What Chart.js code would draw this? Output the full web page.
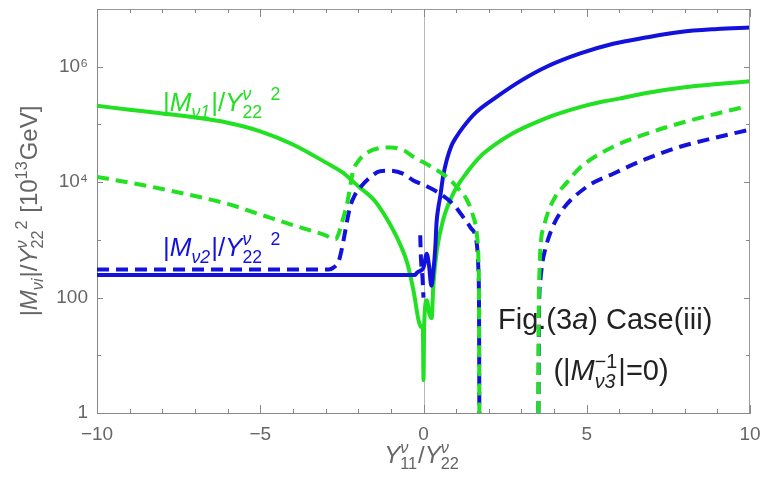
<!DOCTYPE html>
<html><head><meta charset="utf-8">
<script src="https://cdn.jsdelivr.net/npm/chart.js@4"></script>
<style>html,body{margin:0;padding:0;background:#fff;}canvas{display:block;}</style>
</head><body>
<canvas id="c" width="762" height="488"></canvas>
<script>
// ---------------- data ----------------
const xTickLabels = {"-10":"\u221210","-5":"\u22125","0":"0","5":"5","10":"10"};
const yTickLabels = {"1":"1","100":"100","10000":"10\u2074","1000000":"10\u2076"};
const yTickValues = [1,10,100,1e3,1e4,1e5,1e6,1e7];

// |M_nu1| / Y22^2  (solid green)
const m1SolidX = [-10,-9,-8,-7,-6,-5,-4,-3,-2.5,-2,-1.5,-1,-0.7,-0.5,-0.3,-0.15,-0.08,-0.02,0,0.02,0.1,0.18,0.25,0.3,0.41,0.6,0.92,1.3,1.73,2.2,2.75,3.5,4,4.79,5.5,6,6.83,8,9,10];
const m1SolidY = [2.1e5,1.8e5,1.55e5,1.32e5,1.07e5,7.6e4,4.5e4,2.2e4,1.5e4,8.5e3,4.8e3,1.75e3,800,400,125,40,31,33,3.7,33,90,52,44,160,660,2.2e3,6.5e3,1.4e4,2.75e4,4.5e4,7.1e4,1.12e5,1.45e5,2.0e5,2.5e5,2.8e5,3.5e5,4.4e5,5.0e5,5.6e5];

// |M_nu2| / Y22^2  (solid blue)
const m2SolidX = [-10,-0.26,-0.2,-0.1,0,0.1,0.17,0.24,0.3,0.36,0.4,0.45,0.51,0.6,0.71,0.85,1,1.21,1.6,2.24,3,3.77,4.8,5.81,6.8,7.86,9,10];
const m2SolidY = [245,245,270,290,330,575,355,160,280,710,2.0e3,3.5e3,5.5e3,1.26e4,2.4e4,4.2e4,6.0e4,8.9e4,1.6e5,3.0e5,5.8e5,1.0e6,1.7e6,2.5e6,3.2e6,4.0e6,4.5e6,4.8e6];

// dashed green (first branch, then second branch)
const m1DashX = [-10,-9,-8,-7,-6,-5,-4,-3,-2.7,-2.6,-2.5,-2.35,-2.15,-2,-1.74,-1.33,-1,-0.6,-0.31,0.2,0.71,1,1.33,1.5,1.63,1.68,1.7,1.71];
const m1DashY = [1.23e4,9.8e3,7.6e3,5.75e3,4.2e3,2.75e3,1.8e3,1.2e3,1.02e3,1.26e3,2.0e3,4.0e3,1.6e4,2.3e4,3.2e4,3.9e4,4.0e4,3.55e4,2.75e4,1.9e4,1.23e4,8.5e3,4.9e3,2.8e3,1.3e3,500,100,1];
const m1Dash2X = [3.52,3.53,3.55,3.58,3.7,3.98,4.4,4.8,5.81,6.8,7.86,9,9.8];
const m1Dash2Y = [1,63,250,700,1.8e3,4.9e3,1.0e4,1.8e4,4.1e4,6.8e4,1.05e5,1.55e5,2.0e5];

// dashed blue
const m2DashX = [-10,-2.9,-2.76,-2.6,-2.5,-2.45,-2.25,-2.1,-1.94,-1.6,-1.33,-1,-0.6,-0.31,0.1,0.51,0.9,1.21,1.45,1.63,1.68,1.7,1.71];
const m2DashY = [307,307,330,420,700,980,3.7e3,6.0e3,8.1e3,1.26e4,1.55e4,1.58e4,1.38e4,1.07e4,8.5e3,6.3e3,4.2e3,2.5e3,1.6e3,870,320,80,1];
const m2Dash2X = [3.52,3.54,3.58,3.64,3.72,3.9,4.18,5,5.81,6.8,7.86,9,9.9];
const m2Dash2Y = [1,63,200,400,660,1.4e3,2.9e3,8.3e3,1.4e4,2.5e4,4.1e4,6.0e4,7.9e4];
const m2SpikeX = [-0.1,-0.08,-0.03,0];
const m2SpikeY = [1.2e3,500,220,100];

// ---------------- styles ----------------
const GREEN = '#22e022';
const BLUE = '#1212dc';
const GRAY = '#666';
const FAM = '"Liberation Sans", Arial, Helvetica, sans-serif';

function pts(xs, ys){ return xs.map((x,i)=>({x:x, y:ys[i]})); }

function ds(label, xs, ys, color, dashed){
  return {label, data: pts(xs,ys), borderColor: color, backgroundColor: color,
    borderWidth: 4, borderDash: dashed ? [12,7] : [], pointRadius: 0,
    cubicInterpolationMode: 'monotone', tension: 0.4,
    fill: false, borderJoinStyle: 'round'};
}

// rich text (sub/superscripts)
function drawRich(ctx, parts, x, y, size, color, align){
  const small = size*0.68;
  const f = (sz,it)=> (it?'italic ':'') + sz.toFixed(1) + 'px ' + FAM;
  const items = parts.map(p=>{
    if (typeof p === 'string') p = {t:p};
    let w = 0;
    if (p.t !== undefined){ ctx.font = f(size,p.i); w = ctx.measureText(p.t).width; }
    else {
      let ws=0, wp=0;
      if (p.sub){ ctx.font = f(small,p.si); ws = ctx.measureText(p.sub).width; }
      if (p.sup){ ctx.font = f(small,p.pi); wp = ctx.measureText(p.sup).width; }
      w = Math.max(ws,wp) + size*0.04;
    }
    return {p,w};
  });
  const total = items.reduce((a,b)=>a+b.w,0);
  let cx = align==='center' ? x - total/2 : (align==='right' ? x-total : x);
  ctx.save();
  ctx.fillStyle = color; ctx.textBaseline = 'alphabetic'; ctx.textAlign = 'left';
  for (const {p,w} of items){
    if (p.t !== undefined){ ctx.font = f(size,p.i); ctx.fillText(p.t, cx, y); }
    else {
      if (p.sub){ ctx.font = f(small,p.si); ctx.fillText(p.sub, cx, y + size*0.26); }
      if (p.sup){ ctx.font = f(small,p.pi); ctx.fillText(p.sup, cx, y - size*0.42); }
    }
    cx += w;
  }
  ctx.restore();
}

const decorPlugin = {
  id: 'decor',
  beforeDatasetsDraw(chart){
    const {ctx, chartArea:a, scales:{x}} = chart;
    const px = Math.round(x.getPixelForValue(0)) + 0.5;
    ctx.save(); ctx.strokeStyle = '#b8b8b8'; ctx.lineWidth = 1;
    ctx.beginPath(); ctx.moveTo(px, a.top); ctx.lineTo(px, a.bottom); ctx.stroke();
    ctx.restore();
  },
  afterDraw(chart){
    const {ctx, chartArea:a, scales:{x,y}} = chart;
    ctx.save();
    ctx.strokeStyle = '#999'; ctx.lineWidth = 1;
    ctx.beginPath();
    ctx.moveTo(a.left, a.top+0.5); ctx.lineTo(a.right, a.top+0.5);
    ctx.moveTo(a.right-0.5, a.top); ctx.lineTo(a.right-0.5, a.bottom);
    ctx.stroke();
    ctx.strokeStyle = '#888';
    ctx.beginPath();
    x.ticks.forEach(t=>{
      const v = t.value; const px = Math.round(x.getPixelForValue(v))+0.5;
      const L = (Math.abs(v)%5===0) ? 8 : 4;
      ctx.moveTo(px, a.bottom); ctx.lineTo(px, a.bottom-L);
      ctx.moveTo(px, a.top); ctx.lineTo(px, a.top+L);
    });
    y.ticks.forEach(t=>{
      const v = t.value; const py = Math.round(y.getPixelForValue(v))+0.5;
      const L = yTickLabels[String(v)] ? 6 : 4;
      ctx.moveTo(a.left, py); ctx.lineTo(a.left+L, py);
      ctx.moveTo(a.right, py); ctx.lineTo(a.right-L, py);
    });
    ctx.stroke();
    ctx.restore();

    // axis titles
    drawRich(ctx, [{t:'Y',i:1},{sub:'11',sup:'\u03bd',pi:1},'/',{t:'Y',i:1},{sub:'22',sup:'\u03bd',pi:1}], 422, 463, 24, GRAY, 'center');
    ctx.save(); ctx.translate(37, 211); ctx.rotate(-Math.PI/2);
    drawRich(ctx, ['|',{t:'M',i:1},{sub:'\u03bdi',si:1},'|/',{t:'Y',i:1},{sub:'22',sup:'\u03bd',pi:1},{sup:'2'},' [10',{sup:'13'},'GeV]'], 0, 0, 24, GRAY, 'center');
    ctx.restore();

    // curve labels
    drawRich(ctx, ['|',{t:'M',i:1},{sub:'\u03bd1',si:1},'|/',{t:'Y',i:1},{sub:'22',sup:'\u03bd',pi:1},' ',{sup:'2'}], 163, 111, 26, GREEN, 'left');
    drawRich(ctx, ['|',{t:'M',i:1},{sub:'\u03bd2',si:1},'|/',{t:'Y',i:1},{sub:'22',sup:'\u03bd',pi:1},' ',{sup:'2'}], 163, 256, 26, BLUE, 'left');

    // figure caption
    drawRich(ctx, ['Fig.(3',{t:'a',i:1},') Case(iii)'], 498, 329, 29, '#222', 'left');
    drawRich(ctx, ['(|',{t:'M',i:1},{sub:'\u03bd3',sup:'\u22121',si:1},'|=0)'], 611, 380, 29, '#222', 'center');
  }
};

new Chart(document.getElementById('c'), {
  type: 'line',
  data: { datasets: [
    ds('|M\u03bd1|/Y22\u00b2 (dashed)', m1DashX, m1DashY, GREEN, true),
    ds('|M\u03bd1|/Y22\u00b2 (dashed, 2)', m1Dash2X, m1Dash2Y, GREEN, true),
    ds('|M\u03bd2|/Y22\u00b2 (dashed)', m2DashX, m2DashY, BLUE, true),
    ds('|M\u03bd2|/Y22\u00b2 (dashed, 2)', m2Dash2X, m2Dash2Y, BLUE, true),
    ds('|M\u03bd2|/Y22\u00b2 (dashed, spike)', m2SpikeX, m2SpikeY, BLUE, true),
    ds('|M\u03bd2|/Y22\u00b2', m2SolidX, m2SolidY, BLUE, false),
    ds('|M\u03bd1|/Y22\u00b2', m1SolidX, m1SolidY, GREEN, false)
  ]},
  options: {
    responsive: false, animation: false, devicePixelRatio: 1,
    layout: { padding: { top: 9, right: 12, left: 0, bottom: 0 } },
    plugins: { legend: { display: false }, tooltip: { enabled: false } },
    scales: {
      x: {
        type: 'linear', min: -10, max: 10,
        afterFit(s){ s.height = 75; s.paddingLeft = 0; s.paddingRight = 0; },
        grid: { display: false, drawTicks: false },
        border: { display: true, color: '#888', width: 1 },
        ticks: { stepSize: 1, autoSkip: false, maxRotation: 0, padding: 10, color: GRAY,
          font: { family: FAM, size: 19 },
          callback: v => xTickLabels[String(v)] || '' }
      },
      y: {
        type: 'logarithmic', min: 1, max: 1e7,
        afterFit(s){ s.width = 97; s.paddingTop = 0; s.paddingBottom = 0; },
        afterBuildTicks(s){ s.ticks = yTickValues.map(v=>({value:v})); },
        grid: { display: false, drawTicks: false },
        border: { display: true, color: '#888', width: 1 },
        ticks: { autoSkip: false, padding: 9, color: GRAY,
          font: { family: FAM, size: 19 },
          callback: v => yTickLabels[String(v)] || '' }
      }
    }
  },
  plugins: [decorPlugin]
});
</script>
</body></html>
